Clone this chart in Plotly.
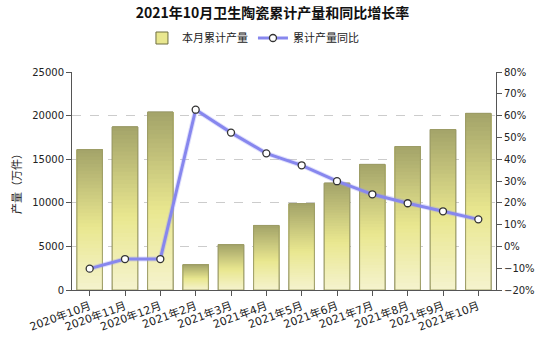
import plotly.graph_objects as go

categories = ["2020年10月", "2020年11月", "2020年12月", "2021年2月", "2021年3月", "2021年4月",
              "2021年5月", "2021年6月", "2021年7月", "2021年8月", "2021年9月", "2021年10月"]
production = [16100, 18700, 20400, 2900, 5200, 7400, 9900, 12250, 14400, 16450, 18400, 20250]
yoy_growth = [-10.2, -5.8, -5.8, 62.7, 52.2, 42.7, 37.2, 29.9, 23.9, 19.8, 16.1, 12.4]

bar_name = "本月累计产量"
line_name = "累计产量同比"
title_text = "2021年10月卫生陶瓷累计产量和同比增长率"
yaxis_title = "产量（万件）"

FONT = "DejaVu Sans, Noto Sans CJK SC"
CJK = "Noto Sans CJK SC"

def lerp(c1, c2, t):
    return tuple(int(round(a + (b - a) * t)) for a, b in zip(c1, c2))

stops = [(0.0, (245, 243, 206)), (0.45, (233, 231, 143)), (1.0, (163, 163, 105))]

def grad(f):
    for (f1, c1), (f2, c2) in zip(stops[:-1], stops[1:]):
        if f <= f2:
            return lerp(c1, c2, (f - f1) / (f2 - f1))
    return stops[-1][1]

BW = 0.72
fig = go.Figure()

fig.add_trace(go.Bar(x=categories, y=production, name=bar_name, width=BW,
                     marker=dict(color="#e9e78f", line=dict(color="#6f6f40", width=1)),
                     yaxis="y"))

n = 40
for i in range(n):
    f = i / n
    c = grad(f + 0.5 / n)
    bases = [v * f for v in production]
    hs = [v - b for v, b in zip(production, bases)]
    fig.add_trace(go.Bar(x=categories, y=hs, base=bases, width=BW, showlegend=False,
                         hoverinfo="skip",
                         marker=dict(color="rgb(%d,%d,%d)" % c, line=dict(width=0)),
                         yaxis="y"))

fig.add_trace(go.Bar(x=categories, y=production, width=BW, showlegend=False, hoverinfo="skip",
                     marker=dict(color="rgba(0,0,0,0)", line=dict(color="#9c9c66", width=1)),
                     yaxis="y"))

fig.add_trace(go.Scatter(x=categories, y=yoy_growth, mode="lines", showlegend=False,
                         hoverinfo="skip", line=dict(color="rgba(150,150,245,0.3)", width=5),
                         yaxis="y2"))
fig.add_trace(go.Scatter(x=categories, y=yoy_growth, mode="lines+markers", name=line_name,
                         line=dict(color="#8787ee", width=3),
                         marker=dict(symbol="circle", size=7, color="white",
                                     line=dict(color="#333333", width=1.3)),
                         yaxis="y2"))

fig.update_layout(
    width=545, height=340,
    margin=dict(l=72, r=49, t=72, b=50),
    paper_bgcolor="white", plot_bgcolor="white",
    barmode="overlay", bargap=0.28,
    font=dict(family=FONT, size=10, color="#222222"),
    title=dict(text="<b>" + title_text + "</b>", x=0.5, xanchor="center",
               yref="container", y=1 - 13 / 340, yanchor="middle",
               font=dict(family=CJK, size=14, color="#111111")),
    legend=dict(orientation="h", x=0.165, xanchor="left", yref="container",
                y=1 - 38 / 340, yanchor="middle", font=dict(family=CJK, size=11, color="#222"),
                itemwidth=30, tracegroupgap=0, bgcolor="rgba(0,0,0,0)"),
    xaxis=dict(type="category", tickangle=-20, showline=True, linecolor="#555555", linewidth=1,
               ticks="outside", ticklen=5, tickcolor="#555555", showgrid=False, automargin=False,
               tickfont=dict(family=FONT, size=11, color="#222"), range=[-0.5, 11.5]),
    yaxis=dict(range=[0, 25000], dtick=5000, tickformat="d", showline=True, linecolor="#555555",
               linewidth=1, ticks="outside", ticklen=5, tickcolor="#555555", showgrid=True,
               gridcolor="#cccccc", griddash="dash", gridwidth=1, zeroline=False, automargin=False,
               tickfont=dict(family=FONT, size=10, color="#222"),
               title=dict(text=yaxis_title, font=dict(family=CJK, size=11, color="#222"), standoff=8)),
    yaxis2=dict(range=[-20, 80], dtick=10, overlaying="y", side="right", ticksuffix="%",
                showline=True, linecolor="#555555", linewidth=1, ticks="outside", ticklen=5,
                tickcolor="#555555", showgrid=False, zeroline=False, automargin=False,
                tickfont=dict(family=FONT, size=10, color="#222")),
)

fig.write_html("out.html")
